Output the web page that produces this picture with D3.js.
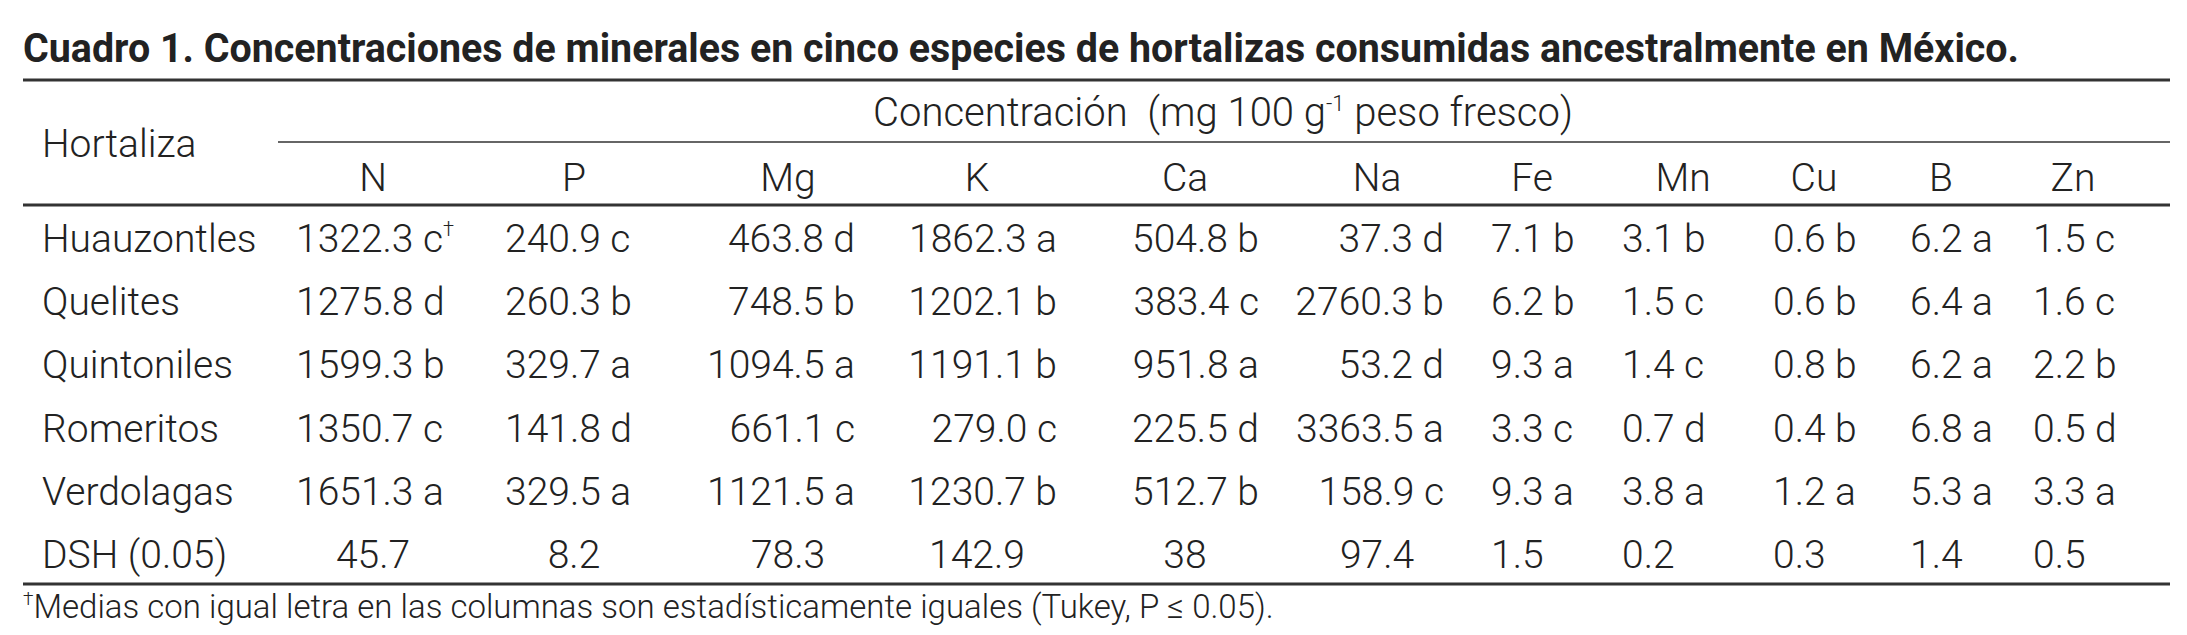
<!DOCTYPE html>
<html><head><meta charset="utf-8">
<script src="https://cdn.jsdelivr.net/npm/d3@7/dist/d3.min.js"></script>
<style>body{margin:0;background:#fff}</style></head>
<body><svg id="c" width="2187" height="635"></svg>
<script>
const title = "Cuadro 1. Concentraciones de minerales en cinco especies de hortalizas consumidas ancestralmente en México.";
const columns = ["N","P","Mg","K","Ca","Na","Fe","Mn","Cu","B","Zn"];
const rowNames = ["Huauzontles","Quelites","Quintoniles","Romeritos","Verdolagas","DSH (0.05)"];
const valN  = ["1322.3 c","1275.8 d","1599.3 b","1350.7 c","1651.3 a","45.7"];
const valP  = ["240.9 c","260.3 b","329.7 a","141.8 d","329.5 a","8.2"];
const valMg = ["463.8 d","748.5 b","1094.5 a","661.1 c","1121.5 a","78.3"];
const valK  = ["1862.3 a","1202.1 b","1191.1 b","279.0 c","1230.7 b","142.9"];
const valCa = ["504.8 b","383.4 c","951.8 a","225.5 d","512.7 b","38"];
const valNa = ["37.3 d","2760.3 b","53.2 d","3363.5 a","158.9 c","97.4"];
const valFe = ["7.1 b","6.2 b","9.3 a","3.3 c","9.3 a","1.5"];
const valMn = ["3.1 b","1.5 c","1.4 c","0.7 d","3.8 a","0.2"];
const valCu = ["0.6 b","0.6 b","0.8 b","0.4 b","1.2 a","0.3"];
const valB  = ["6.2 a","6.4 a","6.2 a","6.8 a","5.3 a","1.4"];
const valZn = ["1.5 c","1.6 c","2.2 b","0.5 d","3.3 a","0.5"];
const footnote = "Medias con igual letra en las columnas son estadísticamente iguales (Tukey, P ≤ 0.05).";
const values = [valN,valP,valMg,valK,valCa,valNa,valFe,valMn,valCu,valB,valZn];

const headX = d3.scaleOrdinal(columns,[373,574,788,977,1185,1377,1532,1683,1814,1941,2073]);
const anchorX = d3.scaleOrdinal(columns,[296,505,855,1057,1259,1444,1491,1622,1773,1910,2033]);
const anchorT = d3.scaleOrdinal(columns,["start","start","end","end","end","end","start","start","start","start","start"]);
const y = d3.scalePoint(rowNames,[252,568]);
const svg = d3.select("#c");
const ink = "#222";
const F = "Roboto, 'Noto Sans', sans-serif";
const S = 39;

svg.append("text").attr("x",23).attr("y",62).attr("font-family",F).attr("font-weight",700)
  .attr("font-size",40).attr("fill",ink).attr("textLength",1996).attr("lengthAdjust","spacingAndGlyphs").text(title);

const line=(x1,x2,yy,w)=>svg.append("line").attr("x1",x1).attr("x2",x2).attr("y1",yy).attr("y2",yy).attr("stroke","#333").attr("stroke-width",w);
line(23,2170,80,3); line(278,2170,142,1.6); line(23,2170,205,3); line(23,2170,584,3);

const T=(x,yy,s,anchor,size)=>svg.append("text").attr("x",x).attr("y",yy).attr("text-anchor",anchor||"start")
  .attr("font-family",F).attr("font-weight",300).attr("font-size",size||S).attr("fill",ink).text(s);

const ct=T(1223,126,"","middle",40);
ct.append("tspan").text("Concentración\u00a0\u00a0(mg 100 g");
ct.append("tspan").attr("font-size",22).attr("dy",-15).text("-1");
ct.append("tspan").attr("dy",15).text(" peso fresco)");
T(42,157,"Hortaliza");
columns.forEach(c=>T(headX(c),191,c,"middle"));

rowNames.forEach((r,i)=>{
  T(42,y(r),r);
  columns.forEach((c,j)=>{
    const v=values[j][i];
    const isDSH=i===rowNames.length-1;
    let t;
    if(isDSH && j<6) t=T(headX(c),y(r),v,"middle");
    else t=T(anchorX(c),y(r),v,isDSH?"start":anchorT(c));
    if(i===0&&j===0) t.append("tspan").attr("font-size",20).attr("dy",-16).text("†");
  });
});
const fn=T(23,618,"","start",33);
fn.append("tspan").attr("font-size",19).attr("dy",-13).text("†");
fn.append("tspan").attr("dy",13).text(footnote);
</script></body></html>
